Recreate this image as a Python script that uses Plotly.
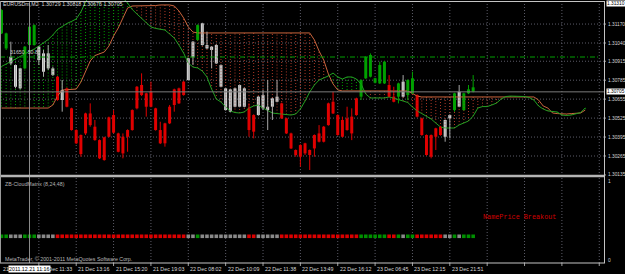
import plotly.graph_objects as go

# ---------------- data ----------------
highs = [1.31271, 1.31111, 1.31049, 1.30893, 1.30870, 1.31019, 1.31157, 1.31168, 1.31019, 1.30992,
         1.31026, 1.30878, 1.30814, 1.30786, 1.30734, 1.30596, 1.30448, 1.30413, 1.30562, 1.30626,
         1.30512, 1.30379, 1.30397, 1.30535, 1.30580, 1.30425, 1.30420, 1.30448, 1.30585, 1.30745,
         1.30832, 1.30699, 1.30775, 1.30596, 1.30500, 1.30493, 1.30615, 1.30727, 1.30734, 1.30779,
         1.30939, 1.31054, 1.31168, 1.31179, 1.31118, 1.31019, 1.31031, 1.30894, 1.30734, 1.30727,
         1.30734, 1.30756, 1.30734, 1.30626, 1.30551, 1.30676, 1.30718, 1.30786, 1.30665, 1.30786,
         1.30631, 1.30528, 1.30425, 1.30310, 1.30345, 1.30356, 1.30310, 1.30413, 1.30477, 1.30471,
         1.30631, 1.30706, 1.30551, 1.30535, 1.30603, 1.30592, 1.30665, 1.30791, 1.30951, 1.30969,
         1.30802, 1.30912, 1.30916, 1.30820, 1.30740, 1.30768, 1.30820, 1.30791, 1.30843, 1.30688,
         1.30528, 1.30413, 1.30413, 1.30459, 1.30471, 1.30516, 1.30551, 1.30699, 1.30752, 1.30699,
         1.30752, 1.30820]
lows = [1.31102, 1.30992, 1.30889, 1.30729, 1.30722, 1.30862, 1.31022, 1.31022, 1.30889, 1.30809,
        1.30855, 1.30814, 1.30644, 1.30569, 1.30599, 1.30439, 1.30347, 1.30260, 1.30409, 1.30466,
        1.30370, 1.30244, 1.30233, 1.30393, 1.30420, 1.30290, 1.30249, 1.30294, 1.30439, 1.30585,
        1.30676, 1.30535, 1.30599, 1.30439, 1.30347, 1.30329, 1.30484, 1.30569, 1.30622, 1.30679,
        1.30782, 1.30889, 1.31056, 1.31022, 1.30999, 1.30866, 1.30896, 1.30736, 1.30576, 1.30564,
        1.30599, 1.30599, 1.30599, 1.30397, 1.30386, 1.30541, 1.30580, 1.30443, 1.30512, 1.30633,
        1.30519, 1.30416, 1.30313, 1.30260, 1.30192, 1.30272, 1.30169, 1.30260, 1.30358, 1.30358,
        1.30473, 1.30553, 1.30404, 1.30393, 1.30439, 1.30374, 1.30541, 1.30649, 1.30793, 1.30804,
        1.30763, 1.30759, 1.30759, 1.30667, 1.30633, 1.30626, 1.30667, 1.30649, 1.30690, 1.30530,
        1.30404, 1.30267, 1.30249, 1.30306, 1.30404, 1.30363, 1.30386, 1.30569, 1.30599, 1.30576,
        1.30690, 1.30701]
opens = [1.31106, 1.31003, 1.30900, 1.30740, 1.30729, 1.30866, 1.31026, 1.31026, 1.30923, 1.30843,
         1.30866, 1.30820, 1.30809, 1.30649, 1.30729, 1.30592, 1.30443, 1.30409, 1.30557, 1.30557,
         1.30466, 1.30374, 1.30393, 1.30530, 1.30546, 1.30420, 1.30397, 1.30443, 1.30580, 1.30740,
         1.30752, 1.30695, 1.30706, 1.30592, 1.30443, 1.30489, 1.30603, 1.30722, 1.30729, 1.30775,
         1.30786, 1.30942, 1.31061, 1.31026, 1.31003, 1.30992, 1.30900, 1.30740, 1.30580, 1.30569,
         1.30603, 1.30603, 1.30603, 1.30592, 1.30546, 1.30546, 1.30592, 1.30580, 1.30603, 1.30637,
         1.30626, 1.30523, 1.30420, 1.30306, 1.30340, 1.30352, 1.30306, 1.30409, 1.30420, 1.30466,
         1.30626, 1.30637, 1.30546, 1.30512, 1.30523, 1.30535, 1.30660, 1.30672, 1.30798, 1.30809,
         1.30768, 1.30763, 1.30763, 1.30752, 1.30672, 1.30672, 1.30672, 1.30683, 1.30695, 1.30683,
         1.30523, 1.30409, 1.30409, 1.30455, 1.30466, 1.30397, 1.30523, 1.30580, 1.30603, 1.30580,
         1.30695, 1.30736]
closes = [1.31266, 1.31106, 1.30946, 1.30889, 1.30866, 1.31015, 1.31152, 1.31163, 1.31015, 1.30969,
          1.30969, 1.30866, 1.30649, 1.30718, 1.30603, 1.30443, 1.30352, 1.30278, 1.30420, 1.30477,
          1.30374, 1.30249, 1.30237, 1.30397, 1.30425, 1.30294, 1.30283, 1.30397, 1.30443, 1.30592,
          1.30683, 1.30603, 1.30603, 1.30443, 1.30352, 1.30352, 1.30489, 1.30615, 1.30626, 1.30683,
          1.30935, 1.31049, 1.31163, 1.31175, 1.31026, 1.31015, 1.31026, 1.30889, 1.30729, 1.30722,
          1.30729, 1.30752, 1.30729, 1.30443, 1.30432, 1.30672, 1.30683, 1.30603, 1.30660, 1.30672,
          1.30523, 1.30420, 1.30317, 1.30272, 1.30260, 1.30283, 1.30272, 1.30317, 1.30363, 1.30363,
          1.30477, 1.30557, 1.30409, 1.30397, 1.30443, 1.30420, 1.30546, 1.30786, 1.30946, 1.30958,
          1.30798, 1.30889, 1.30912, 1.30672, 1.30637, 1.30763, 1.30775, 1.30786, 1.30798, 1.30535,
          1.30409, 1.30272, 1.30260, 1.30397, 1.30409, 1.30512, 1.30546, 1.30695, 1.30706, 1.30695,
          1.30722, 1.30706]
# 1 = green, 0 = neutral (white/grey), -1 = red
candle_state = [1, 1, 0, 0, 0, 1, 1, 1, 0, 0,
                0, 0, -1, 0, -1, -1, -1, -1, -1, -1,
                -1, -1, -1, -1, -1, -1, -1, -1, -1, -1,
                -1, -1, -1, -1, -1, -1, -1, -1, -1, -1,
                0, 0, 1, 0, 0, 0, 0, 0, 0, 0,
                0, 0, 0, -1, -1, 0, 0, 0, 0, 0,
                -1, -1, -1, -1, -1, -1, -1, -1, -1, -1,
                -1, -1, -1, -1, -1, -1, -1, 1, 1, 1,
                1, 1, 1, -1, -1, 1, 0, 1, 1, -1,
                -1, -1, -1, -1, -1, 0, 0, 1, 0, 1,
                1, 1]
matrix_state = [1, 1, 0, 0, 0, 1, 1, 1, 0, 0,
                0, 0, -1, -1, -1, -1, -1, -1, -1, -1,
                -1, -1, -1, -1, -1, -1, -1, -1, -1, -1,
                -1, -1, -1, -1, -1, -1, -1, -1, -1, -1,
                0, 0, 1, 0, 0, 0, 0, 0, 0, 0,
                0, 0, 0, -1, -1, 0, 0, 0, 0, 0,
                -1, -1, -1, -1, -1, -1, -1, -1, -1, -1,
                -1, -1, -1, -1, -1, -1, -1, 1, 1, 1,
                1, 1, 1, -1, -1, 1, 0, 1, 1, -1,
                -1, -1, -1, -1, -1, 0, 0, 1, 0, 1,
                1, 1]
span_a = [1.30879, 1.30896, 1.30913, 1.30930, 1.30949, 1.30961, 1.30978, 1.30999, 1.31019, 1.31040,
          1.31064, 1.31095, 1.31133, 1.31153, 1.31174, 1.31188, 1.31205, 1.31253, 1.31321, 1.31369,
          1.31390, 1.31404, 1.31410, 1.31404, 1.31390, 1.31369, 1.31349, 1.31314, 1.31270, 1.31239,
          1.31208, 1.31177, 1.31150, 1.31140, 1.31133, 1.31129, 1.31102, 1.31074, 1.31026, 1.30971,
          1.30903, 1.30875, 1.30869, 1.30848, 1.30807, 1.30724, 1.30656, 1.30635, 1.30601, 1.30574,
          1.30563, 1.30560, 1.30567, 1.30594, 1.30608, 1.30615, 1.30594, 1.30574, 1.30560, 1.30556,
          1.30553, 1.30550, 1.30546, 1.30553, 1.30587, 1.30642, 1.30704, 1.30752, 1.30786, 1.30800,
          1.30814, 1.30834, 1.30807, 1.30793, 1.30807, 1.30807, 1.30793, 1.30759, 1.30690, 1.30663,
          1.30663, 1.30663, 1.30663, 1.30670, 1.30663, 1.30652, 1.30642, 1.30632, 1.30601, 1.30574,
          1.30556, 1.30539, 1.30519, 1.30491, 1.30464, 1.30457, 1.30457, 1.30457, 1.30478, 1.30491,
          1.30505, 1.30539, 1.30594, 1.30604, 1.30604, 1.30615, 1.30628, 1.30656, 1.30673, 1.30676,
          1.30676, 1.30676, 1.30673, 1.30666, 1.30649, 1.30608, 1.30587, 1.30574, 1.30570, 1.30567,
          1.30546, 1.30543, 1.30546, 1.30553, 1.30563, 1.30594]
span_b = [1.30594, 1.30594, 1.30594, 1.30594, 1.30594, 1.30594, 1.30594, 1.30594, 1.30594, 1.30594,
          1.30594, 1.30615, 1.30676, 1.30718, 1.30721, 1.30724, 1.30724, 1.30772, 1.30848, 1.30917,
          1.30954, 1.30965, 1.30978, 1.31019, 1.31088, 1.31143, 1.31212, 1.31280, 1.31294, 1.31294,
          1.31294, 1.31294, 1.31294, 1.31297, 1.31301, 1.31301, 1.31301, 1.31294, 1.31260, 1.31212,
          1.31150, 1.31115, 1.31109, 1.31109, 1.31109, 1.31109, 1.31109, 1.31109, 1.31109, 1.31109,
          1.31109, 1.31109, 1.31109, 1.31109, 1.31109, 1.31109, 1.31109, 1.31109, 1.31109, 1.31109,
          1.31109, 1.31109, 1.31109, 1.31109, 1.31109, 1.31109, 1.31109, 1.31061, 1.30985, 1.30923,
          1.30827, 1.30759, 1.30718, 1.30711, 1.30711, 1.30711, 1.30711, 1.30711, 1.30711, 1.30711,
          1.30711, 1.30711, 1.30711, 1.30711, 1.30711, 1.30711, 1.30711, 1.30711, 1.30694, 1.30676,
          1.30670, 1.30670, 1.30670, 1.30670, 1.30670, 1.30670, 1.30670, 1.30670, 1.30670, 1.30670,
          1.30670, 1.30670, 1.30670, 1.30670, 1.30670, 1.30670, 1.30670, 1.30670, 1.30670, 1.30670,
          1.30670, 1.30670, 1.30670, 1.30670, 1.30670, 1.30649, 1.30608, 1.30594, 1.30560, 1.30556,
          1.30553, 1.30553, 1.30556, 1.30560, 1.30560, 1.30580]
price_ticks = [1.31170, 1.31040, 1.30915, 1.30785, 1.30655, 1.30525, 1.30395, 1.30265, 1.30135]
time_labels = ["21 Dec 11:33", "21 Dec 13:16", "21 Dec 15:20", "21 Dec 19:03", "22 Dec 08:02",
               "22 Dec 10:09", "22 Dec 11:38", "22 Dec 13:49", "22 Dec 16:12", "23 Dec 06:45",
               "23 Dec 12:15", "23 Dec 21:51"]
time_label_bars = [8, 16, 24, 32, 40, 48, 56, 64, 72, 80, 88, 96]
grid_bars = [8, 16, 24, 32, 40, 48, 56, 64, 72, 80, 88, 96, 104, 112, 120, 128]
bid_price = 1.30705
top_price = 1.31310
level_price = 1.30944
crosshair_bar = 6
crosshair_time = "2011.12.21 11:16"
header = "EURUSDm,M2  1.30729 1.30818 1.30676 1.30705"
matrix_level = 0.3

# ---------------- styling / layout ----------------
W, H = 625, 274
def px(x):
    return x / W
def py(y):
    return 1 - y / H

P_TOP, P_BOT = 1.31335, 1.30121
X0, X1 = -0.32, 129.23
FONT = "Liberation Sans"
GREEN, RED, WHITE = "#00a000", "#e00000", "#d8d8d8"
col = {1: GREEN, -1: RED, 0: WHITE}
wick_col = {1: GREEN, -1: RED, 0: "#a8a8a8"}
sq_col = {1: "#009000", -1: "#dc0000", 0: "#8a8a8a"}
GRID = "#5c5c68"

fig = go.Figure()
n = len(highs)
idx = list(range(n))

# cloud hatch
cx = {True: [], False: []}
cy = {True: [], False: []}
for i, (a, b) in enumerate(zip(span_a, span_b)):
    up = a >= b
    cx[up] += [i, i, None]
    cy[up] += [a, b, None]
fig.add_trace(go.Scatter(x=cx[True], y=cy[True], mode="lines",
                         line=dict(color="#00a000", width=1, dash="1px,2px"), hoverinfo="skip"))
fig.add_trace(go.Scatter(x=cx[False], y=cy[False], mode="lines",
                         line=dict(color="#b03a28", width=1, dash="1px,2px"), hoverinfo="skip"))
cidx = list(range(len(span_a)))
fig.add_trace(go.Scatter(x=cidx, y=span_b, mode="lines", line=dict(color="#c8643c", width=1)))
fig.add_trace(go.Scatter(x=cidx, y=span_a, mode="lines", line=dict(color="#22a022", width=1)))

# wicks
for s in (1, 0, -1):
    wx, wy = [], []
    for i in idx:
        if candle_state[i] == s:
            wx += [i, i, None]
            wy += [lows[i], highs[i], None]
    fig.add_trace(go.Scatter(x=wx, y=wy, mode="lines", line=dict(color=wick_col[s], width=1),
                             hoverinfo="skip"))

# bodies
base = [min(o, c) for o, c in zip(opens, closes)]
height = [max(abs(c - o), 0.00003) for o, c in zip(opens, closes)]
fig.add_trace(go.Bar(x=idx, y=height, base=base, width=0.64,
                     marker=dict(color=[col[s] for s in candle_state], line=dict(width=0))))

# matrix squares (lower panel)
fig.add_trace(go.Scatter(x=idx, y=[matrix_level] * n, yaxis="y2", mode="markers",
                         marker=dict(symbol="square", size=3.6,
                                     color=[sq_col[s] for s in matrix_state], line=dict(width=0))))

shapes = []
# horizontal grid
for p in price_ticks[:-1]:
    shapes.append(dict(type="line", xref="paper", yref="y", x0=0, x1=px(604), y0=p, y1=p,
                       line=dict(color=GRID, width=1, dash="1px,2px"), layer="below"))
# vertical grid
for b in grid_bars:
    shapes.append(dict(type="line", xref="x", yref="paper", x0=b, x1=b, y0=py(263), y1=py(2),
                       line=dict(color=GRID, width=1, dash="1px,2px"), layer="below"))
    shapes.append(dict(type="line", xref="x", yref="paper", x0=b, x1=b, y0=py(263), y1=py(266),
                       line=dict(color="#a0a0a0", width=1)))
# right ticks
for p in price_ticks:
    shapes.append(dict(type="line", xref="paper", yref="y", x0=px(604), x1=px(606), y0=p, y1=p,
                       line=dict(color="#a0a0a0", width=1)))
# green level line
shapes.append(dict(type="line", xref="paper", yref="y", x0=0, x1=px(600), y0=level_price, y1=level_price,
                   line=dict(color="#00a000", width=1, dash="5px,2px,1px,2px")))
# crosshair
shapes.append(dict(type="line", xref="paper", yref="y", x0=0, x1=px(604), y0=bid_price, y1=bid_price,
                   line=dict(color="#7a7a7a", width=1)))
shapes.append(dict(type="line", xref="x", yref="paper", x0=crosshair_bar, x1=crosshair_bar,
                   y0=py(263), y1=py(2), line=dict(color="#8a8a8a", width=1)))
# frames
FR = "#c4c4c4"
for y in (1.5, 263):
    shapes.append(dict(type="line", xref="paper", yref="paper", x0=0, x1=px(605), y0=py(y), y1=py(y),
                       line=dict(color=FR, width=1)))
shapes.append(dict(type="line", xref="paper", yref="paper", x0=0, x1=px(605), y0=py(176), y1=py(176),
                   line=dict(color="#b4b4b4", width=2.5)))
shapes.append(dict(type="line", xref="paper", yref="paper", x0=px(604.5), x1=px(604.5), y0=py(263), y1=py(1),
                   line=dict(color=FR, width=1)))
shapes.append(dict(type="line", xref="paper", yref="paper", x0=px(0.5), x1=px(0.5), y0=py(263), y1=py(1),
                   line=dict(color="#9a9a9a", width=1)))

ann = []
def text(x, y, s, size=5.3, color="#d8d8d8", xanchor="left", family=FONT, **kw):
    ann.append(dict(x=x, y=y, text=s, showarrow=False, xanchor=xanchor, yanchor="middle",
                    font=dict(family=family, size=size, color=color), borderpad=0, **kw))

text(px(2), py(4.5), header, xref="paper", yref="paper")
text(px(9), py(52), "31650  50.8", color="#c8c8c8", xref="paper", yref="paper")
for p in price_ticks:
    text(px(606.5), p, f"{p:.5f}", size=4.8, xref="paper", yref="y")
text(px(605.5), bid_price, f"{bid_price:.5f}", size=4.8, color="#000000", xref="paper", yref="y",
     bgcolor="#ffffff")
text(px(605.5), top_price, f"{top_price:.5f}", size=4.8, color="#000000", xref="paper", yref="y",
     bgcolor="#ffffff")
for b, s in zip(time_label_bars, time_labels):
    text(b, py(268.5), s, xref="x", yref="paper", xshift=1)
text(px(2), py(268.5), "21", xref="paper", yref="paper")
text(px(29.5), py(268.5), crosshair_time, color="#000000", xanchor="center", xref="paper", yref="paper",
     bgcolor="#ffffff")
text(px(4), py(183.5), "ZB-CloudMatrix (8,24,48)", color="#b0b0b0", xref="paper", yref="paper")
text(px(4), py(259), "MetaTrader, © 2001-2011 MetaQuotes Software Corp.", color="#b8b8b8",
     xref="paper", yref="paper")
text(px(482), py(217), "NamePrice Breakout", size=6.8, color="#d00000", family="Liberation Mono",
     xref="paper", yref="paper")
text(px(607), py(181), "1", size=4.8, xref="paper", yref="paper")
text(px(607), py(260), "0", size=4.8, xref="paper", yref="paper")

fig.update_layout(
    width=W, height=H, margin=dict(l=0, r=0, t=0, b=0),
    paper_bgcolor="#000000", plot_bgcolor="#000000", showlegend=False, barmode="overlay",
    xaxis=dict(domain=[0, px(605)], range=[X0, X1], visible=False, fixedrange=True),
    yaxis=dict(domain=[py(177), 1], range=[P_BOT, P_TOP], visible=False),
    yaxis2=dict(domain=[py(263), py(179)], range=[-0.038, 1.025], visible=False, anchor="x"),
    shapes=shapes, annotations=ann,
)
fig.write_html("out.html")
